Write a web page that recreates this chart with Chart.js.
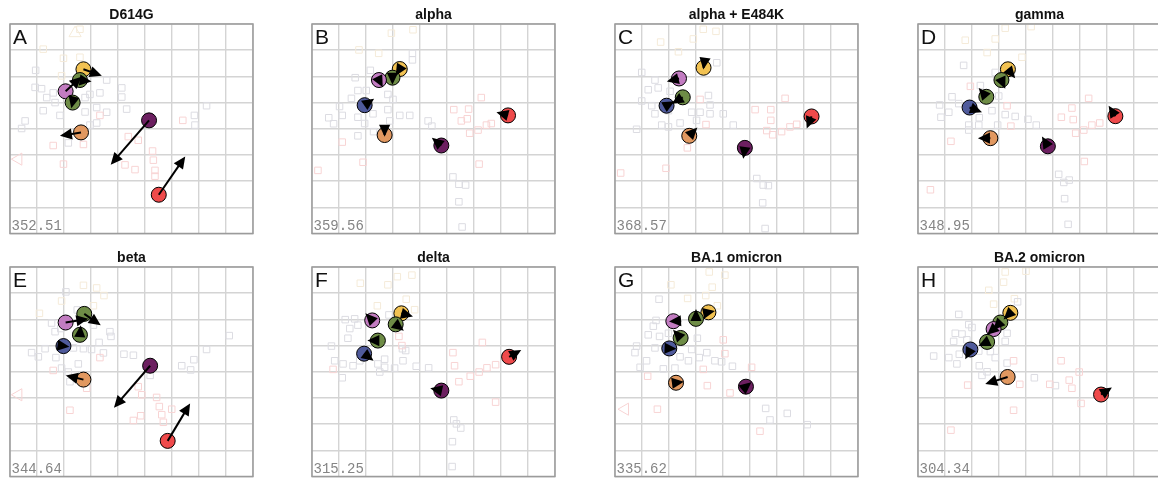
<!DOCTYPE html>
<html>
<head>
<meta charset="utf-8">
<title>antigenic maps</title>
<script src="https://cdn.jsdelivr.net/npm/chart.js@4.4.1/dist/chart.umd.min.js"></script>
<style>
  html, body { margin: 0; padding: 0; background: #fff; }
  body { width: 1158px; height: 483px; position: relative; overflow: hidden; }
  .panel { position: absolute; width: 263px; height: 242px; }
  .panel canvas { display: block; }
</style>
</head>
<body>

<script>
// panel labels
const panelTitles = ['D614G', 'alpha', 'alpha + E484K', 'gamma', 'beta', 'delta', 'BA.1 omicron', 'BA.2 omicron'];
const panelLetters = ['A', 'B', 'C', 'D', 'E', 'F', 'G', 'H'];
const stressValues = ['352.51', '359.56', '368.57', '348.95', '344.64', '315.25', '335.62', '304.34'];

// map units: x 0..9 left to right, y 0..8 top to bottom
// antigens: [colour group, x, y], arrow tips in the same order
const antigensA = [['yellow', 2.72, 1.73], ['green', 2.59, 2.14], ['pink', 2.06, 2.57], ['green', 2.32, 3.0], ['orange', 2.63, 4.14], ['purple', 5.15, 3.68], ['red', 5.51, 6.52]];
const arrowTipsA = [[3.4, 1.98], [3.02, 2.2], [2.65, 2.01], [2.27, 3.22], [1.85, 4.27], [3.73, 5.37], [6.49, 5.06]];

const antigensB = [['yellow', 3.25, 1.72], ['green', 2.98, 2.05], ['pink', 2.48, 2.14], ['blue', 1.95, 3.1], ['orange', 2.69, 4.24], ['purple', 4.79, 4.64], ['red', 7.26, 3.49]];
const arrowTipsB = [[3.1, 1.98], [2.98, 2.32], [2.62, 2.42], [2.3, 2.85], [2.69, 4.31], [4.44, 4.34], [6.83, 3.37]];

const antigensC = [['yellow', 3.28, 1.67], ['pink', 2.37, 2.08], ['green', 2.51, 2.8], ['blue', 1.91, 3.12], ['orange', 2.75, 4.27], ['purple', 4.81, 4.73], ['red', 7.28, 3.53]];
const arrowTipsC = [[3.27, 1.74], [1.92, 2.2], [2.1, 3.05], [2.2, 2.95], [3.05, 3.95], [4.75, 5.15], [7.1, 3.99]];

const antigensD = [['yellow', 3.33, 1.73], ['green', 3.09, 2.14], ['green', 2.53, 2.78], ['blue', 1.91, 3.19], ['orange', 2.68, 4.36], ['purple', 4.81, 4.67], ['red', 7.31, 3.52]];
const arrowTipsD = [[3.6, 2.07], [3.23, 2.47], [2.25, 2.44], [2.37, 3.37], [2.22, 4.36], [4.59, 4.3], [7.06, 3.12]];

const antigensE = [['green', 2.75, 1.79], ['pink', 2.06, 2.12], ['green', 2.59, 2.59], ['blue', 1.98, 3.02], ['orange', 2.72, 4.3], ['purple', 5.19, 3.77], ['red', 5.84, 6.64]];
const arrowTipsE = [[3.36, 2.22], [2.9, 1.98], [2.62, 2.22], [2.2, 3.05], [2.07, 4.14], [3.85, 5.37], [6.67, 5.21]];

const antigensF = [['yellow', 3.31, 1.77], ['green', 3.1, 2.19], ['pink', 2.23, 2.04], ['green', 2.44, 2.81], ['blue', 1.93, 3.31], ['purple', 4.79, 4.72], ['red', 7.3, 3.43]];
const arrowTipsF = [[3.74, 1.89], [3.4, 2.43], [1.98, 1.77], [2.05, 2.81], [2.28, 3.58], [4.38, 4.63], [7.75, 3.17]];

const antigensG = [['yellow', 3.46, 1.73], ['green', 3.0, 1.98], ['pink', 2.16, 2.07], ['green', 2.43, 2.71], ['blue', 2.01, 3.11], ['orange', 2.26, 4.42], ['purple', 4.85, 4.57]];
const arrowTipsG = [[3.7, 1.68], [3.0, 1.6], [2.0, 2.08], [2.15, 2.4], [2.28, 3.12], [2.55, 4.38], [5.05, 4.4]];

const antigensH = [['yellow', 3.42, 1.75], ['green', 3.05, 2.12], ['pink', 2.8, 2.37], ['green', 2.56, 2.86], ['blue', 1.94, 3.15], ['orange', 3.32, 4.2], ['red', 6.78, 4.87]];
const arrowTipsH = [[3.17, 2.0], [2.78, 2.41], [2.56, 2.59], [2.24, 3.02], [1.75, 3.52], [2.49, 4.47], [7.18, 4.6]];

// sera: [x, y, group]  g = gold, k = grey, p = pink
const seraA = [
  [2.59, 0.2, 'g'], [1.23, 0.96, 'g'], [1.98, 1.31, 'g'], [2.59, 1.27, 'g'], [1.91, 1.98, 'g'],
  [0.95, 1.77, 'k'], [0.93, 2.42, 'k'], [1.17, 2.47, 'k'], [1.6, 2.63, 'k'], [1.36, 2.81, 'k'], [1.67, 3.0, 'k'],
  [1.23, 3.31, 'k'], [1.85, 3.49, 'k'], [0.56, 3.7, 'k'], [0.43, 3.99, 'k'], [2.78, 2.81, 'k'], [2.96, 2.69, 'k'],
  [2.78, 3.36, 'k'], [3.21, 3.19, 'k'], [3.58, 2.14, 'k'], [3.33, 2.63, 'k'], [4.14, 2.44, 'k'], [4.14, 2.79, 'k'],
  [4.32, 3.25, 'k'], [3.58, 3.37, 'k'], [3.21, 3.78, 'k'], [2.96, 3.86, 'k'], [2.16, 4.54, 'k'], [7.28, 3.12, 'k'],
  [6.83, 3.49, 'k'], [6.85, 3.86, 'k'],
  [3.33, 3.49, 'p'], [4.38, 4.3, 'p'], [4.75, 4.44, 'p'], [1.6, 4.64, 'p'], [2.72, 4.6, 'p'], [1.98, 5.35, 'p'],
  [6.4, 3.68, 'p'], [5.28, 4.85, 'p'], [5.31, 5.2, 'p'], [4.26, 5.38, 'p'], [4.63, 5.56, 'p'], [5.37, 5.59, 'p'], [5.37, 5.81, 'p']
];
const seraB = [
  [2.94, 0.35, 'g'], [3.74, 0.22, 'g'], [1.74, 0.99, 'g'], [2.47, 1.12, 'g'],
  [3.72, 1.12, 'k'], [3.72, 1.37, 'k'], [2.16, 1.77, 'k'], [1.6, 2.05, 'k'], [1.7, 2.54, 'k'], [2.01, 2.54, 'k'],
  [1.46, 2.84, 'k'], [1.02, 3.15, 'k'], [1.12, 3.49, 'k'], [0.62, 3.58, 'k'], [0.8, 3.81, 'k'], [1.7, 3.56, 'k'],
  [1.95, 3.8, 'k'], [2.26, 3.43, 'k'], [2.28, 4.11, 'k'], [1.7, 4.27, 'k'], [2.81, 2.69, 'k'], [3.0, 2.88, 'k'],
  [2.81, 3.27, 'k'], [3.25, 3.49, 'k'], [3.62, 3.49, 'k'], [2.88, 3.7, 'k'], [4.3, 3.7, 'k'], [4.44, 3.9, 'k'],
  [5.22, 5.84, 'k'], [5.44, 6.12, 'k'], [5.69, 6.15, 'k'], [5.44, 6.79, 'k'], [5.56, 7.75, 'k'],
  [6.27, 2.81, 'p'], [5.25, 3.27, 'p'], [5.8, 3.25, 'p'], [5.53, 3.7, 'p'], [5.75, 3.62, 'p'], [5.84, 4.17, 'p'],
  [6.15, 4.05, 'p'], [6.46, 3.86, 'p'], [6.64, 3.8, 'p'], [1.12, 4.51, 'p'], [0.22, 5.59, 'p'], [1.89, 5.28, 'p'], [6.19, 5.35, 'p']
];
const seraC = [
  [3.27, 0.2, 'g'], [3.74, 0.28, 'g'], [1.69, 0.69, 'g'], [2.9, 0.57, 'g'], [2.35, 1.06, 'g'],
  [3.77, 1.48, 'k'], [0.99, 1.85, 'k'], [1.48, 2.14, 'k'], [1.23, 2.51, 'k'], [1.6, 2.44, 'k'], [2.04, 2.57, 'k'],
  [0.99, 2.94, 'k'], [1.36, 3.12, 'k'], [1.48, 3.43, 'k'], [1.98, 3.31, 'k'], [1.73, 3.86, 'k'], [1.98, 3.93, 'k'],
  [2.41, 3.78, 'k'], [0.8, 4.02, 'k'], [2.84, 3.37, 'k'], [3.15, 3.37, 'k'], [3.46, 2.73, 'k'], [3.52, 3.09, 'k'],
  [3.52, 3.43, 'k'], [3.02, 3.68, 'k'], [4.01, 3.43, 'k'], [4.38, 3.86, 'k'], [5.25, 5.9, 'k'], [5.49, 6.15, 'k'],
  [5.68, 6.17, 'k'], [5.47, 6.83, 'k'], [5.56, 7.81, 'k'],
  [6.3, 2.84, 'p'], [5.19, 3.27, 'p'], [5.77, 3.27, 'p'], [5.77, 3.68, 'p'], [5.62, 4.07, 'p'], [5.84, 4.23, 'p'],
  [6.17, 4.11, 'p'], [6.48, 3.93, 'p'], [6.73, 3.83, 'p'], [3.37, 3.84, 'p'], [2.68, 4.73, 'p'], [1.89, 5.51, 'p'],
  [0.21, 5.69, 'p'], [3.15, 2.88, 'p']
];
const seraD = [
  [3.23, 0.16, 'g'], [4.19, 0.1, 'g'], [1.75, 0.62, 'g'], [2.86, 0.57, 'g'], [2.56, 1.09, 'g'], [3.85, 1.27, 'g'],
  [1.69, 1.58, 'k'], [2.86, 1.85, 'k'], [2.31, 2.35, 'k'], [1.26, 2.78, 'k'], [1.51, 3.04, 'k'], [0.8, 3.09, 'k'],
  [0.85, 3.56, 'k'], [1.14, 3.37, 'k'], [1.88, 3.86, 'k'], [1.88, 4.05, 'k'], [2.25, 3.86, 'k'], [2.27, 3.58, 'k'],
  [2.74, 3.31, 'k'], [2.99, 2.75, 'k'], [3.23, 3.46, 'k'], [3.6, 3.53, 'k'], [2.95, 3.86, 'k'], [4.07, 3.64, 'k'],
  [4.38, 3.86, 'k'], [5.21, 5.74, 'k'], [5.4, 6.05, 'k'], [5.6, 5.96, 'k'], [5.43, 6.67, 'k'], [5.56, 7.65, 'k'],
  [1.94, 2.38, 'p'], [3.3, 3.12, 'p'], [3.44, 3.9, 'p'], [6.32, 2.84, 'p'], [5.7, 3.21, 'p'], [5.31, 3.56, 'p'],
  [5.75, 3.65, 'p'], [5.84, 4.17, 'p'], [6.14, 4.05, 'p'], [6.44, 3.86, 'p'], [6.73, 3.78, 'p'], [6.16, 5.25, 'p'],
  [1.22, 4.48, 'p'], [0.46, 6.33, 'p']
];
const seraE = [
  [2.72, 0.7, 'g'], [3.21, 0.8, 'g'], [3.48, 1.09, 'g'], [1.91, 1.3, 'g'], [3.09, 1.48, 'g'], [1.09, 1.77, 'g'],
  [2.07, 0.95, 'k'], [2.49, 1.64, 'k'], [1.54, 2.14, 'k'], [1.67, 2.47, 'k'], [1.88, 2.35, 'k'], [3.09, 2.22, 'k'],
  [3.7, 2.47, 'k'], [3.74, 2.65, 'k'], [3.3, 2.88, 'k'], [3.46, 3.28, 'k'], [0.8, 3.27, 'k'], [1.05, 3.43, 'k'],
  [1.3, 3.12, 'k'], [1.7, 3.46, 'k'], [2.35, 3.09, 'k'], [2.72, 3.12, 'k'], [3.02, 3.15, 'k'], [2.53, 3.7, 'k'],
  [1.91, 3.86, 'k'], [2.16, 4.01, 'k'], [4.22, 3.33, 'k'], [4.57, 3.37, 'k'], [5.19, 4.14, 'k'], [6.36, 3.77, 'k'],
  [6.69, 3.93, 'k'], [6.81, 3.54, 'k'], [7.28, 3.15, 'k'], [8.12, 2.62, 'k'], [2.22, 4.38, 'k'],
  [3.33, 3.46, 'p'], [1.6, 3.95, 'p'], [2.84, 4.63, 'p'], [4.75, 4.57, 'p'], [4.88, 4.88, 'p'], [5.43, 4.98, 'p'],
  [5.53, 5.33, 'p'], [5.99, 5.43, 'p'], [5.62, 5.64, 'p'], [5.68, 5.93, 'p'], [4.84, 5.68, 'p'], [4.57, 5.86, 'p'], [2.22, 5.47, 'p']
];
const seraF = [
  [3.16, 0.37, 'g'], [3.7, 0.31, 'g'], [1.79, 0.62, 'g'], [2.81, 0.68, 'g'], [2.42, 1.48, 'g'], [3.49, 1.23, 'g'], [3.8, 1.63, 'g'],
  [2.85, 1.83, 'k'], [1.23, 2.01, 'k'], [1.58, 1.98, 'k'], [1.4, 2.35, 'k'], [1.33, 2.72, 'k'], [1.7, 2.22, 'k'],
  [0.72, 3.02, 'k'], [0.84, 3.58, 'k'], [1.15, 3.7, 'k'], [1.52, 3.77, 'k'], [1.77, 3.58, 'k'], [1.12, 4.23, 'k'],
  [2.44, 3.7, 'k'], [2.69, 3.52, 'k'], [2.69, 3.83, 'k'], [2.51, 4.01, 'k'], [3.06, 3.86, 'k'], [3.35, 3.12, 'k'],
  [3.47, 3.19, 'k'], [3.37, 3.58, 'k'], [3.86, 3.79, 'k'], [4.32, 3.85, 'k'], [5.25, 5.84, 'k'], [5.35, 5.99, 'k'],
  [5.51, 6.15, 'k'], [5.2, 6.67, 'k'], [5.19, 7.62, 'k'],
  [3.22, 2.65, 'p'], [3.33, 3.0, 'p'], [6.31, 2.88, 'p'], [5.22, 3.27, 'p'], [5.28, 3.77, 'p'], [5.44, 4.38, 'p'],
  [5.86, 4.17, 'p'], [6.19, 4.01, 'p'], [6.48, 3.85, 'p'], [6.8, 3.73, 'p'], [6.8, 5.16, 'p'], [0.78, 3.91, 'p']
];
const seraG = [
  [3.49, 0.19, 'g'], [4.07, 0.31, 'g'], [2.07, 0.68, 'g'], [3.6, 0.77, 'g'], [2.69, 1.2, 'g'], [3.36, 1.09, 'g'], [3.79, 1.48, 'g'],
  [1.63, 1.23, 'k'], [1.42, 2.26, 'k'], [1.52, 2.04, 'k'], [1.23, 2.59, 'k'], [1.65, 2.65, 'k'], [1.98, 2.53, 'k'],
  [0.8, 3.02, 'k'], [0.74, 3.27, 'k'], [1.48, 3.09, 'k'], [1.17, 3.58, 'k'], [0.93, 3.83, 'k'], [1.79, 3.89, 'k'],
  [2.22, 3.86, 'k'], [2.41, 3.43, 'k'], [2.72, 3.58, 'k'], [2.84, 3.15, 'k'], [3.05, 2.72, 'k'], [3.12, 3.46, 'k'],
  [3.4, 3.27, 'k'], [3.7, 3.58, 'k'], [3.95, 3.62, 'k'], [4.35, 3.79, 'k'], [5.58, 5.4, 'k'], [5.74, 5.84, 'k'],
  [6.38, 5.59, 'k'], [7.12, 6.02, 'k'],
  [4.01, 2.78, 'p'], [4.07, 3.31, 'p'], [3.27, 3.91, 'p'], [5.06, 3.83, 'p'], [3.42, 4.53, 'p'], [4.26, 4.81, 'p'],
  [1.21, 4.17, 'p'], [1.57, 5.43, 'p'], [5.37, 6.27, 'p']
];
const seraH = [
  [3.23, 0.19, 'g'], [4.0, 0.16, 'g'], [3.17, 0.58, 'g'], [2.62, 0.89, 'g'], [2.8, 1.42, 'g'], [3.57, 1.21, 'g'],
  [3.69, 1.33, 'k'], [1.51, 1.81, 'k'], [1.88, 2.2, 'k'], [2.0, 2.31, 'k'], [1.38, 2.53, 'k'], [1.63, 2.56, 'k'],
  [1.32, 2.84, 'k'], [1.81, 2.78, 'k'], [0.58, 3.4, 'k'], [1.14, 3.46, 'k'], [1.44, 3.7, 'k'], [1.53, 3.33, 'k'],
  [2.25, 3.21, 'k'], [2.68, 3.23, 'k'], [2.86, 3.46, 'k'], [2.27, 3.77, 'k'], [2.56, 4.0, 'k'], [2.37, 4.14, 'k'],
  [3.23, 2.84, 'k'], [3.3, 3.67, 'k'], [4.31, 4.23, 'k'], [5.09, 4.53, 'k'], [3.3, 2.53, 'k'], [2.95, 2.38, 'k'],
  [3.54, 3.58, 'p'], [3.77, 4.48, 'p'], [1.84, 4.51, 'p'], [3.54, 5.47, 'p'], [1.22, 6.23, 'p'], [5.3, 3.58, 'p'],
  [5.6, 4.32, 'p'], [5.7, 4.63, 'p'], [5.97, 4.01, 'p'], [4.88, 4.48, 'p'], [6.04, 5.21, 'p']
];

// sera outside the shown area, drawn as triangles on the edge: [x, y, direction, group]
const offMapA = [[2.41, 0.35, 'up', 'g'], [0.31, 5.16, 'left', 'p']];
const offMapE = [[0.31, 4.88, 'left', 'p']];
const offMapG = [[0.37, 5.43, 'left', 'p']];

const panelAntigens = [antigensA, antigensB, antigensC, antigensD, antigensE, antigensF, antigensG, antigensH];
const panelArrows = [arrowTipsA, arrowTipsB, arrowTipsC, arrowTipsD, arrowTipsE, arrowTipsF, arrowTipsG, arrowTipsH];
const panelSera = [seraA, seraB, seraC, seraD, seraE, seraF, seraG, seraH];
const panelOffMap = [offMapA, [], [], [], offMapE, [], offMapG, []];

// colours
const antigenColors = {
  yellow: '#F2C252', green: '#6E8C46', pink: '#C27CC1', blue: '#4F5A9B',
  orange: '#E19860', purple: '#6C1F60', red: '#EF4A4B'
};
const seraColors = { g: '#f5ebd9', k: '#dcdce2', p: '#f8d4d4' };

// page layout for the 8 panels (box left / top in px)
const boxLefts = [10, 312, 615, 918];
const boxTops = [24, 267];

// frame + letter + stress value
const panelTextPlugin = {
  id: 'panelText',
  afterDraw(chart, args, opts) {
    const { ctx, chartArea } = chart;
    ctx.save();
    ctx.strokeStyle = '#9b9b9b';
    ctx.lineWidth = 1.5;
    ctx.strokeRect(chartArea.left, chartArea.top, chartArea.right - chartArea.left, chartArea.bottom - chartArea.top);

    ctx.fillStyle = '#111';
    ctx.font = '21px "Liberation Sans", Arial, sans-serif';
    ctx.textBaseline = 'alphabetic';
    ctx.textAlign = 'left';
    ctx.fillText(opts.letter, chartArea.left + 3, chartArea.top + 19.5);

    ctx.fillStyle = '#858585';
    ctx.font = '14px "Liberation Mono", "Courier New", monospace';
    ctx.fillText(opts.stress, chartArea.left + 1.5, chartArea.bottom - 4);
    ctx.restore();
  }
};

// arrows from each antigen to its tip, head size is fixed
const arrowPlugin = {
  id: 'arrows',
  afterDatasetsDraw(chart, args, opts) {
    const { ctx } = chart;
    const xs = chart.scales.x, ys = chart.scales.y;
    ctx.save();
    ctx.strokeStyle = '#000';
    ctx.fillStyle = '#000';
    ctx.lineWidth = 2;
    opts.antigens.forEach((ag, i) => {
      const tip = opts.tips[i];
      if (!tip) return;
      const x0 = xs.getPixelForValue(ag[1]), y0 = ys.getPixelForValue(ag[2]);
      const x1 = xs.getPixelForValue(tip[0]), y1 = ys.getPixelForValue(tip[1]);
      const dx = x1 - x0, dy = y1 - y0;
      const len = Math.hypot(dx, dy);
      if (len < 0.5) return;
      const ux = dx / len, uy = dy / len;
      const headLen = 12, headW = 5.6;

      ctx.beginPath();
      ctx.moveTo(x0, y0);
      ctx.lineTo(x1 - ux * headLen * 0.6, y1 - uy * headLen * 0.6);
      ctx.stroke();

      ctx.beginPath();
      ctx.moveTo(x1, y1);
      ctx.lineTo(x1 - ux * headLen - uy * headW, y1 - uy * headLen + ux * headW);
      ctx.lineTo(x1 - ux * headLen + uy * headW, y1 - uy * headLen - ux * headW);
      ctx.closePath();
      ctx.fill();
    });
    ctx.restore();
  }
};

function seraDataset(sera, group) {
  return {
    data: sera.filter(s => s[2] === group).map(s => ({ x: s[0], y: s[1] })),
    pointStyle: 'rect',
    pointRadius: 4.6,
    borderWidth: 1,
    borderColor: seraColors[group],
    backgroundColor: 'rgba(0,0,0,0)'
  };
}

function makePanel(i) {
  const col = i % 4, row = Math.floor(i / 4);
  const div = document.createElement('div');
  div.className = 'panel';
  div.style.left = (boxLefts[col] - 10) + 'px';
  div.style.top = (boxTops[row] - 24) + 'px';
  const canvas = document.createElement('canvas');
  canvas.width = 263;
  canvas.height = 242;
  div.appendChild(canvas);
  document.body.appendChild(div);

  const antigens = panelAntigens[i];
  const offMap = panelOffMap[i];

  const datasets = [
    // antigens on top of sera
    {
      data: antigens.map(a => ({ x: a[1], y: a[2] })),
      pointStyle: 'circle',
      pointRadius: 7.5,
      borderWidth: 1,
      borderColor: '#000',
      backgroundColor: antigens.map(a => antigenColors[a[0]])
    },
    {
      data: offMap.map(t => ({ x: t[0], y: t[1] })),
      pointStyle: 'triangle',
      pointRadius: 7,
      rotation: offMap.map(t => (t[2] === 'left' ? -90 : 0)),
      borderWidth: 1,
      borderColor: offMap.map(t => seraColors[t[3]]),
      backgroundColor: 'rgba(0,0,0,0)'
    },
    seraDataset(panelSera[i], 'p'),
    seraDataset(panelSera[i], 'k'),
    seraDataset(panelSera[i], 'g')
  ];

  new Chart(canvas, {
    type: 'scatter',
    data: { datasets: datasets },
    options: {
      responsive: false,
      animation: false,
      events: [],
      layout: { padding: { left: 10, right: 10, top: 0, bottom: 2 } },
      scales: {
        x: {
          min: 0, max: 9,
          ticks: { display: false, stepSize: 1 },
          grid: { color: '#d4d4d4', lineWidth: 1.4, drawTicks: false },
          border: { display: false }
        },
        y: {
          min: 0, max: 8, reverse: true,
          ticks: { display: false, stepSize: 1 },
          grid: { color: '#d4d4d4', lineWidth: 1.4, drawTicks: false },
          border: { display: false }
        }
      },
      plugins: {
        legend: { display: false },
        tooltip: { enabled: false },
        title: {
          display: true,
          text: panelTitles[i],
          color: '#111',
          font: { family: '"Liberation Sans", Arial, sans-serif', size: 14, weight: 'bold', lineHeight: 1.2 },
          padding: { top: 6.6, bottom: 0.6 }
        },
        panelText: { letter: panelLetters[i], stress: stressValues[i] },
        arrows: { antigens: antigens, tips: panelArrows[i] }
      }
    },
    plugins: [arrowPlugin, panelTextPlugin]
  });
}

for (let i = 0; i < 8; i++) makePanel(i);
</script>
</body>
</html>
